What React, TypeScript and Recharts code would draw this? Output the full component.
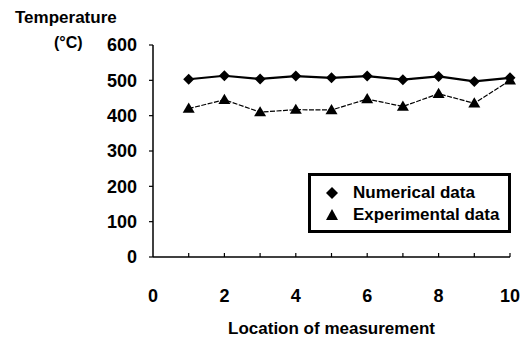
import React from "react";
import { LineChart, Line, XAxis, YAxis } from "recharts";

const locations = [1, 2, 3, 4, 5, 6, 7, 8, 9, 10];
const numerical = [503, 513, 504, 512, 507, 512, 502, 511, 497, 507];
const experimental = [420, 445, 410, 417, 416, 447, 426, 462, 435, 500];
const seriesNames = ["Numerical data", "Experimental data"];
const xTicks = [0, 1, 2, 3, 4, 5, 6, 7, 8, 9, 10];
const yTicks = [0, 100, 200, 300, 400, 500, 600];

const data = locations.map((loc, i) => ({
  loc,
  numerical: numerical[i],
  experimental: experimental[i],
}));

const FONT = "'Liberation Sans', Arial, sans-serif";

const Diamond = (props: any) => {
  const { cx, cy } = props;
  if (cx == null || cy == null) return null;
  const r = 5.5;
  return <path d={`M${cx},${cy - r}L${cx + r},${cy}L${cx},${cy + r}L${cx - r},${cy}Z`} fill="#000" />;
};

const Triangle = (props: any) => {
  const { cx, cy } = props;
  if (cx == null || cy == null) return null;
  const r = 6;
  return <path d={`M${cx},${cy - r}L${cx + r},${cy + r * 0.7}L${cx - r},${cy + r * 0.7}Z`} fill="#000" />;
};

// minor tick at every integer pointing into the plot, label only on even values
const XTick = (props: any) => {
  const { x, payload } = props;
  const v = payload.value;
  const axisY = 257;
  return (
    <g>
      {v !== 0 && <line x1={x} y1={axisY} x2={x} y2={axisY - 4} stroke="#000" strokeWidth={1.2} />}
      {v % 2 === 0 && (
        <text x={x} y={axisY + 45} textAnchor="middle" fontFamily={FONT} fontWeight="bold" fontSize={18} fill="#000">
          {v}
        </text>
      )}
    </g>
  );
};

// legend drawn as a plain box so it does not eat into the plot area
const LegendBox = () => (
  <div
    style={{
      position: "absolute",
      left: 308,
      top: 173,
      width: 197,
      height: 54,
      border: "3px solid #000",
      background: "#fff",
      fontFamily: FONT,
      fontWeight: "bold",
      fontSize: 17,
      color: "#000",
    }}
  >
    <div style={{ display: "flex", alignItems: "center", height: 22, marginTop: 6 }}>
      <svg width={42} height={20}>
        <path d="M21,4L27,10L21,16L15,10Z" fill="#000" />
      </svg>
      <span>{seriesNames[0]}</span>
    </div>
    <div style={{ display: "flex", alignItems: "center", height: 22 }}>
      <svg width={42} height={20}>
        <path d="M21,4L27,15L15,15Z" fill="#000" />
      </svg>
      <span>{seriesNames[1]}</span>
    </div>
  </div>
);

export default function App() {
  return (
    <div style={{ position: "absolute", left: 0, top: 0, width: 527, height: 339, background: "#fff" }}>
      <div style={{ position: "absolute", left: 15, top: 8, fontFamily: FONT, fontWeight: "bold", fontSize: 17 }}>
        Temperature
      </div>
      <div style={{ position: "absolute", left: 54, top: 34, fontFamily: FONT, fontWeight: "bold", fontSize: 16 }}>
        (°C)
      </div>
      <LineChart width={527} height={339} data={data} margin={{ top: 45, right: 17, bottom: 0, left: 0 }}>
        <XAxis
          dataKey="loc"
          type="number"
          domain={[0, 10]}
          ticks={xTicks}
          interval={0}
          tickLine={false}
          tick={<XTick />}
          height={82}
          axisLine={{ stroke: "#000", strokeWidth: 1.5 }}
          label={{
            value: "Location of measurement",
            position: "insideBottom",
            offset: 5,
            fontFamily: FONT,
            fontWeight: "bold",
            fontSize: 17,
            fill: "#000",
          }}
        />
        <YAxis
          type="number"
          domain={[0, 600]}
          ticks={yTicks}
          interval={0}
          width={153}
          tickSize={4}
          tickMargin={12}
          tickLine={{ stroke: "#000", strokeWidth: 1.2 }}
          axisLine={{ stroke: "#000", strokeWidth: 1.5 }}
          tick={{ fontFamily: FONT, fontWeight: "bold", fontSize: 18, fill: "#000" }}
        />
        <Line
          dataKey="numerical"
          name={seriesNames[0]}
          stroke="#000"
          strokeWidth={2.2}
          dot={<Diamond />}
          activeDot={false}
          isAnimationActive={false}
        />
        <Line
          dataKey="experimental"
          name={seriesNames[1]}
          stroke="#000"
          strokeWidth={1.2}
          strokeDasharray="5 1.5"
          dot={<Triangle />}
          activeDot={false}
          isAnimationActive={false}
        />
      </LineChart>
      <LegendBox />
    </div>
  );
}
